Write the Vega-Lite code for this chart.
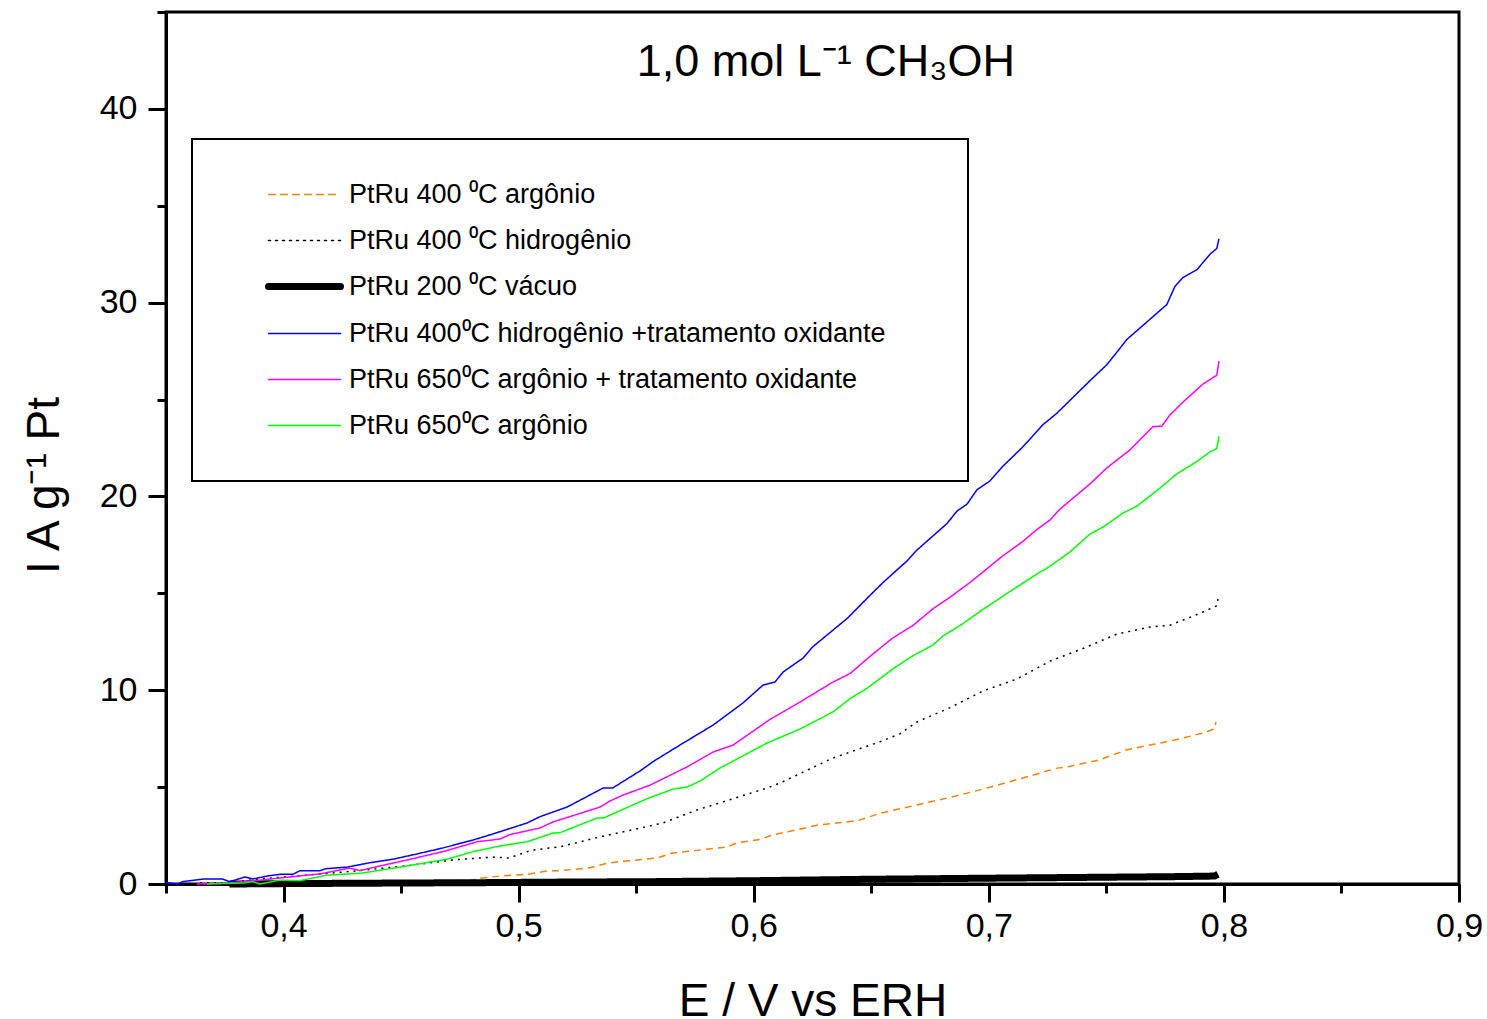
{
  "$schema": "https://vega.github.io/schema/vega-lite/v6.json",
  "width": 1293,
  "height": 872,
  "autosize": {"type": "none"},
  "padding": {"left": 166, "top": 12, "right": 28, "bottom": 135},
  "background": "white",
  "config": {
    "view": {"stroke": "black", "strokeWidth": 3},
    "font": "Liberation Sans",
    "axis": {"domainColor": "black", "domainWidth": 3, "tickColor": "black", "tickWidth": 3, "labelColor": "black", "titleColor": "black", "labelFont": "Liberation Sans", "titleFont": "Liberation Sans", "titleFontWeight": "normal", "grid": false, "labelFlush": false, "labelOverlap": false}
  },
  "datasets": {
    "names": [
      {"k": "A", "s": "PtRu 400 ⁰C argônio"},
      {"k": "B", "s": "PtRu 400 ⁰C hidrogênio"},
      {"k": "C", "s": "PtRu 200 ⁰C vácuo"},
      {"k": "D", "s": "PtRu 400⁰C hidrogênio +tratamento oxidante"},
      {"k": "E", "s": "PtRu 650⁰C argônio + tratamento oxidante"},
      {"k": "F", "s": "PtRu 650⁰C argônio"}
    ],
    "titles": [{"t": "1,0 mol L⁻¹ CH₃OH"}],
    "curves": [
      {"k":"A","E":0.4738,"I":0},{"k":"A","E":0.4836,"I":0.3},{"k":"A","E":0.492,"I":0.41},{"k":"A","E":0.5036,"I":0.5},{"k":"A","E":0.512,"I":0.67},{"k":"A","E":0.5176,"I":0.69},{"k":"A","E":0.53,"I":0.83},{"k":"A","E":0.538,"I":1.08},{"k":"A","E":0.5418,"I":1.14},{"k":"A","E":0.5588,"I":1.34},{"k":"A","E":0.5656,"I":1.6},{"k":"A","E":0.5886,"I":1.91},{"k":"A","E":0.5929,"I":2.12},{"k":"A","E":0.6027,"I":2.3},{"k":"A","E":0.608,"I":2.53},{"k":"A","E":0.6273,"I":3.04},{"k":"A","E":0.6443,"I":3.27},{"k":"A","E":0.6537,"I":3.65},{"k":"A","E":0.669,"I":4.07},{"k":"A","E":0.686,"I":4.54},{"k":"A","E":0.7013,"I":5.02},{"k":"A","E":0.7145,"I":5.47},{"k":"A","E":0.729,"I":5.98},{"k":"A","E":0.7337,"I":6.05},{"k":"A","E":0.747,"I":6.4},{"k":"A","E":0.7583,"I":6.91},{"k":"A","E":0.7685,"I":7.17},{"k":"A","E":0.7792,"I":7.43},{"k":"A","E":0.7907,"I":7.78},{"k":"A","E":0.796,"I":8.0},{"k":"A","E":0.7966,"I":8.37},
      {"k":"B","E":0.3645,"I":0.07},{"k":"B","E":0.376,"I":0.07},{"k":"B","E":0.39,"I":0.26},{"k":"B","E":0.41,"I":0.46},{"k":"B","E":0.4325,"I":0.69},{"k":"B","E":0.455,"I":0.98},{"k":"B","E":0.472,"I":1.24},{"k":"B","E":0.489,"I":1.39},{"k":"B","E":0.496,"I":1.34},{"k":"B","E":0.5036,"I":1.67},{"k":"B","E":0.506,"I":1.75},{"k":"B","E":0.5176,"I":1.92},{"k":"B","E":0.5346,"I":2.43},{"k":"B","E":0.5614,"I":3.15},{"k":"B","E":0.5759,"I":3.82},{"k":"B","E":0.6056,"I":4.95},{"k":"B","E":0.6112,"I":5.21},{"k":"B","E":0.6337,"I":6.5},{"k":"B","E":0.655,"I":7.4},{"k":"B","E":0.6622,"I":7.75},{"k":"B","E":0.6694,"I":8.36},{"k":"B","E":0.6835,"I":9.1},{"k":"B","E":0.6975,"I":9.96},{"k":"B","E":0.712,"I":10.58},{"k":"B","E":0.726,"I":11.5},{"k":"B","E":0.74,"I":12.15},{"k":"B","E":0.7545,"I":12.9},{"k":"B","E":0.7685,"I":13.26},{"k":"B","E":0.777,"I":13.35},{"k":"B","E":0.79,"I":13.98},{"k":"B","E":0.797,"I":14.36},{"k":"B","E":0.7975,"I":14.73},
      {"k":"C","E":0.377,"I":0.0},{"k":"C","E":0.40,"I":0.02},{"k":"C","E":0.45,"I":0.05},{"k":"C","E":0.485,"I":0.07},{"k":"C","E":0.52,"I":0.1},{"k":"C","E":0.556,"I":0.12},{"k":"C","E":0.6,"I":0.17},{"k":"C","E":0.646,"I":0.24},{"k":"C","E":0.7,"I":0.3},{"k":"C","E":0.75,"I":0.35},{"k":"C","E":0.779,"I":0.38},{"k":"C","E":0.796,"I":0.41},{"k":"C","E":0.7975,"I":0.5},
      {"k":"D","E":0.35,"I":0.07},{"k":"D","E":0.355,"I":0.0},{"k":"D","E":0.357,"I":0.12},{"k":"D","E":0.366,"I":0.26},{"k":"D","E":0.374,"I":0.26},{"k":"D","E":0.377,"I":0.12},{"k":"D","E":0.3836,"I":0.36},{"k":"D","E":0.387,"I":0.26},{"k":"D","E":0.393,"I":0.41},{"k":"D","E":0.3985,"I":0.5},{"k":"D","E":0.404,"I":0.5},{"k":"D","E":0.407,"I":0.69},{"k":"D","E":0.4155,"I":0.69},{"k":"D","E":0.418,"I":0.79},{"k":"D","E":0.427,"I":0.87},{"k":"D","E":0.4368,"I":1.1},{"k":"D","E":0.4466,"I":1.28},{"k":"D","E":0.4567,"I":1.55},{"k":"D","E":0.4678,"I":1.86},{"k":"D","E":0.4806,"I":2.27},{"k":"D","E":0.489,"I":2.58},{"k":"D","E":0.5036,"I":3.15},{"k":"D","E":0.509,"I":3.47},{"k":"D","E":0.5206,"I":3.97},{"k":"D","E":0.5359,"I":4.95},{"k":"D","E":0.54,"I":4.95},{"k":"D","E":0.544,"I":5.26},{"k":"D","E":0.5516,"I":5.83},{"k":"D","E":0.557,"I":6.3},{"k":"D","E":0.5686,"I":7.17},{"k":"D","E":0.5827,"I":8.2},{"k":"D","E":0.5954,"I":9.34},{"k":"D","E":0.604,"I":10.27},{"k":"D","E":0.609,"I":10.42},{"k":"D","E":0.6125,"I":10.94},{"k":"D","E":0.621,"I":11.66},{"k":"D","E":0.625,"I":12.23},{"k":"D","E":0.6397,"I":13.7},{"k":"D","E":0.6495,"I":14.9},{"k":"D","E":0.655,"I":15.56},{"k":"D","E":0.6652,"I":16.67},{"k":"D","E":0.6694,"I":17.23},{"k":"D","E":0.6822,"I":18.6},{"k":"D","E":0.6864,"I":19.24},{"k":"D","E":0.6907,"I":19.6},{"k":"D","E":0.695,"I":20.35},{"k":"D","E":0.7005,"I":20.8},{"k":"D","E":0.706,"I":21.56},{"k":"D","E":0.7145,"I":22.56},{"k":"D","E":0.723,"I":23.7},{"k":"D","E":0.729,"I":24.3},{"k":"D","E":0.743,"I":25.97},{"k":"D","E":0.7502,"I":26.8},{"k":"D","E":0.7545,"I":27.45},{"k":"D","E":0.7587,"I":28.1},{"k":"D","E":0.7672,"I":29.0},{"k":"D","E":0.7757,"I":29.9},{"k":"D","E":0.7792,"I":30.85},{"k":"D","E":0.7826,"I":31.3},{"k":"D","E":0.7885,"I":31.7},{"k":"D","E":0.7941,"I":32.5},{"k":"D","E":0.797,"I":32.8},{"k":"D","E":0.7979,"I":33.3},
      {"k":"E","E":0.363,"I":0.0},{"k":"E","E":0.376,"I":0.05},{"k":"E","E":0.39,"I":0.2},{"k":"E","E":0.404,"I":0.38},{"k":"E","E":0.4155,"I":0.52},{"k":"E","E":0.428,"I":0.82},{"k":"E","E":0.4325,"I":0.69},{"k":"E","E":0.441,"I":0.93},{"k":"E","E":0.4525,"I":1.24},{"k":"E","E":0.4678,"I":1.67},{"k":"E","E":0.4823,"I":2.18},{"k":"E","E":0.492,"I":2.32},{"k":"E","E":0.4963,"I":2.55},{"k":"E","E":0.509,"I":2.89},{"k":"E","E":0.5146,"I":3.2},{"k":"E","E":0.5346,"I":3.97},{"k":"E","E":0.5388,"I":4.28},{"k":"E","E":0.5444,"I":4.59},{"k":"E","E":0.5559,"I":5.1},{"k":"E","E":0.5716,"I":6.04},{"k":"E","E":0.5827,"I":6.81},{"k":"E","E":0.5912,"I":7.17},{"k":"E","E":0.607,"I":8.5},{"k":"E","E":0.6197,"I":9.39},{"k":"E","E":0.6337,"I":10.42},{"k":"E","E":0.641,"I":10.86},{"k":"E","E":0.6452,"I":11.3},{"k":"E","E":0.6507,"I":11.87},{"k":"E","E":0.6592,"I":12.7},{"k":"E","E":0.6677,"I":13.34},{"k":"E","E":0.6762,"I":14.2},{"k":"E","E":0.6835,"I":14.8},{"k":"E","E":0.692,"I":15.56},{"k":"E","E":0.6975,"I":16.1},{"k":"E","E":0.706,"I":16.94},{"k":"E","E":0.7145,"I":17.68},{"k":"E","E":0.7205,"I":18.3},{"k":"E","E":0.726,"I":18.78},{"k":"E","E":0.7303,"I":19.35},{"k":"E","E":0.743,"I":20.64},{"k":"E","E":0.7502,"I":21.47},{"k":"E","E":0.76,"I":22.4},{"k":"E","E":0.7698,"I":23.6},{"k":"E","E":0.7736,"I":23.63},{"k":"E","E":0.777,"I":24.2},{"k":"E","E":0.7826,"I":24.87},{"k":"E","E":0.7911,"I":25.8},{"k":"E","E":0.797,"I":26.26},{"k":"E","E":0.7979,"I":26.98},
      {"k":"F","E":0.3674,"I":0},{"k":"F","E":0.3828,"I":0.05},{"k":"F","E":0.387,"I":0.12},{"k":"F","E":0.39,"I":0.0},{"k":"F","E":0.3985,"I":0.2},{"k":"F","E":0.407,"I":0.17},{"k":"F","E":0.4185,"I":0.46},{"k":"F","E":0.4325,"I":0.55},{"k":"F","E":0.4495,"I":0.87},{"k":"F","E":0.4695,"I":1.28},{"k":"F","E":0.4806,"I":1.67},{"k":"F","E":0.492,"I":1.96},{"k":"F","E":0.5036,"I":2.18},{"k":"F","E":0.5146,"I":2.63},{"k":"F","E":0.5176,"I":2.65},{"k":"F","E":0.5333,"I":3.4},{"k":"F","E":0.536,"I":3.4},{"k":"F","E":0.5546,"I":4.4},{"k":"F","E":0.5657,"I":4.9},{"k":"F","E":0.5716,"I":5.0},{"k":"F","E":0.577,"I":5.3},{"k":"F","E":0.5856,"I":5.98},{"k":"F","E":0.6056,"I":7.27},{"k":"F","E":0.6197,"I":8.0},{"k":"F","E":0.6337,"I":8.88},{"k":"F","E":0.641,"I":9.57},{"k":"F","E":0.6482,"I":10.1},{"k":"F","E":0.6592,"I":11.1},{"k":"F","E":0.6677,"I":11.78},{"k":"F","E":0.6762,"I":12.33},{"k":"F","E":0.6805,"I":12.8},{"k":"F","E":0.689,"I":13.44},{"k":"F","E":0.6975,"I":14.17},{"k":"F","E":0.7035,"I":14.65},{"k":"F","E":0.7103,"I":15.2},{"k":"F","E":0.7205,"I":16.0},{"k":"F","E":0.726,"I":16.4},{"k":"F","E":0.7345,"I":17.13},{"k":"F","E":0.743,"I":18.06},{"k":"F","E":0.7486,"I":18.42},{"k":"F","E":0.757,"I":19.14},{"k":"F","E":0.763,"I":19.5},{"k":"F","E":0.7728,"I":20.43},{"k":"F","E":0.78,"I":21.17},{"k":"F","E":0.7885,"I":21.8},{"k":"F","E":0.794,"I":22.3},{"k":"F","E":0.797,"I":22.47},{"k":"F","E":0.7979,"I":23.1}
    ]
  },
  "layer": [
    {
      "data": {"name": "curves"},
      "transform": [{"lookup": "k", "from": {"data": {"name": "names"}, "key": "k", "fields": ["s"]}}],
      "mark": {"type": "line", "strokeCap": "butt", "strokeJoin": "round"},
      "encoding": {
        "x": {
          "field": "E", "type": "quantitative",
          "scale": {"domain": [0.35, 0.9], "nice": false, "zero": false},
          "axis": {
            "values": [0.35, 0.4, 0.45, 0.5, 0.55, 0.6, 0.65, 0.7, 0.75, 0.8, 0.85, 0.9],
            "labelExpr": "round(datum.value*20)%2==0 ? replace(format(datum.value,'.1f'),'.',',') : ''",
            "tickSize": {"condition": {"test": "round(datum.value*20)%2==0", "value": 18}, "value": 9},
            "labelFontSize": 34, "labelPadding": 7,
            "title": "E / V vs ERH", "titleFontSize": 46, "titleY": 131, "titleBaseline": "alphabetic"
          }
        },
        "y": {
          "field": "I", "type": "quantitative",
          "scale": {"domain": [0, 45], "nice": false},
          "axis": {
            "values": [0, 5, 10, 15, 20, 25, 30, 35, 40, 45],
            "labelExpr": "datum.value % 10 == 0 ? datum.label : ''",
            "tickSize": {"condition": {"test": "datum.value % 10 == 0", "value": 18}, "value": 9},
            "labelFontSize": 34, "labelPadding": 11,
            "title": "I A g⁻¹ Pt", "titleFontSize": 46, "titleX": -108, "titleY": 473, "titleAngle": 270, "titleBaseline": "alphabetic"
          }
        },
        "color": {
          "field": "s", "type": "nominal",
          "scale": {
            "domain": ["PtRu 400 ⁰C argônio", "PtRu 400 ⁰C hidrogênio", "PtRu 200 ⁰C vácuo", "PtRu 400⁰C hidrogênio +tratamento oxidante", "PtRu 650⁰C argônio + tratamento oxidante", "PtRu 650⁰C argônio"],
            "range": ["#FF8000", "#000000", "#000000", "#0000FF", "#FF00FF", "#00FF00"]
          },
          "legend": {
            "orient": "none", "legendX": 26, "legendY": 127,
            "title": "\u00a0", "titleOrient": "right", "titleFontSize": 1, "titlePadding": 40,
            "padding": 42,
            "strokeColor": "black",
            "fillColor": "white",
            "symbolType": "M-6,0H6",
            "symbolSize": 144,
            "symbolOffset": 57,
            "labelOffset": 31,
            "labelFontSize": 27,
            "labelFont": "Liberation Sans",
            "labelColor": "black",
            "labelLimit": 1000,
            "rowPadding": 18,
            "encode": {"symbols": {"update": {"strokeCap": {"value": "round"}}}, "legend": {"update": {"strokeWidth": {"value": 2}}}}
          }
        },
        "strokeDash": {
          "field": "s", "type": "nominal",
          "scale": {
            "domain": ["PtRu 400 ⁰C argônio", "PtRu 400 ⁰C hidrogênio", "PtRu 200 ⁰C vácuo", "PtRu 400⁰C hidrogênio +tratamento oxidante", "PtRu 650⁰C argônio + tratamento oxidante", "PtRu 650⁰C argônio"],
            "range": [[7, 5], [2, 5], [1, 0], [1, 0], [1, 0], [1, 0]]
          }
        },
        "strokeWidth": {
          "field": "s", "type": "ordinal",
          "scale": {
            "type": "ordinal",
            "domain": ["PtRu 400 ⁰C argônio", "PtRu 400 ⁰C hidrogênio", "PtRu 200 ⁰C vácuo", "PtRu 400⁰C hidrogênio +tratamento oxidante", "PtRu 650⁰C argônio + tratamento oxidante", "PtRu 650⁰C argônio"],
            "range": [1.5, 1.5, 7, 1.5, 1.5, 1.5]
          }
        }
      }
    },
    {
      "data": {"name": "titles"},
      "mark": {"type": "text", "fontSize": 45, "font": "Liberation Sans", "color": "black", "baseline": "alphabetic", "align": "center"},
      "encoding": {
        "x": {"datum": 0.6307},
        "y": {"datum": 41.7},
        "text": {"field": "t"}
      }
    }
  ]
}
